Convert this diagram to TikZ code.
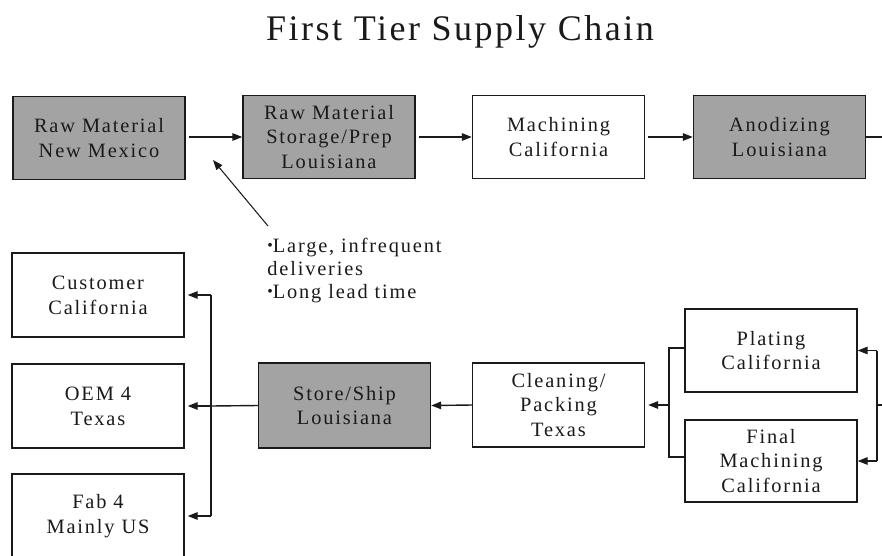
\documentclass[tikz,border=0pt]{standalone}
\usepackage{fontspec}
\setmainfont{Liberation Serif}[LetterSpace=9]
\usepackage{tikz}
\usetikzlibrary{arrows.meta,positioning,calc}
\definecolor{Ink}{HTML}{1A1A1A}
\definecolor{Shade}{HTML}{A3A3A3}
\newcommand\dotmark{{\fontsize{9}{9}\selectfont\raisebox{0.3ex}{\textbullet}}}
\tikzset{
  stage/.style={draw=Ink,thick,minimum width=172*0.02cm,minimum height=83*0.02cm,align=center,fill=white,text=Ink,font=\fontsize{11.6}{14.2}\selectfont,inner sep=2pt},
  stagegrey/.style={stage,fill=Shade},
  arrow/.style={-{Triangle[length=2mm,width=1.5mm]},thick,draw=Ink},
  link/.style={thick,draw=Ink}
}
\begin{document}
\begin{tikzpicture}[x=0.02cm,y=-0.02cm]
  \useasboundingbox (0,0) rectangle (882,555);
  \node[anchor=base,font=\fontsize{20.5}{22}\selectfont\addfontfeature{LetterSpace=7},text=Ink] (title) at (460,40) {First Tier Supply Chain};

  % top row
  \node[stagegrey] (rawNM) at (99,138) {Raw Material\\New Mexico};
  \node[stagegrey] (rawLA) at (329,137) {Raw Material\\Storage/Prep\\Louisiana};
  \node[stage] (mach) at (558.5,137) {Machining\\California};
  \node[stagegrey] (anod) at (779.5,137) {Anodizing\\Louisiana};
  \coordinate (topOut) at (884,137);
  \draw[arrow] (rawNM.east |- rawLA) ++(3,0) -- (rawLA.west);
  \draw[arrow] (rawLA.east) ++(3,0) -- (mach.west);
  \draw[arrow] (mach.east) ++(3,0) -- (anod.west);
  \draw[link] (anod.east) -- (topOut);

  % note on deliveries
  \node[anchor=north west,align=left,inner sep=0pt,text=Ink,font=\fontsize{11.6}{13}\selectfont] (note) at (267,238) {\dotmark Large, infrequent\\deliveries\\\dotmark Long lead time};
  \coordinate (noteTail) at (268,226);
  \coordinate (noteTip) at (213,160);
  \draw[arrow,semithick] (noteTail) -- (noteTip);

  % bottom row
  \node[stage,minimum height=84*0.02cm] (cust) at (98,295) {Customer\\California};
  \node[stage,minimum height=84*0.02cm] (oem) at (98,406) {OEM 4\\Texas};
  \node[stage,minimum height=84*0.02cm] (fab) at (98,516) {Fab 4\\Mainly US};
  \node[stagegrey,minimum height=85*0.02cm] (store) at (344.5,405.5) {Store/Ship\\Louisiana};
  \node[stage,minimum height=84*0.02cm] (clean) at (558.5,405) {Cleaning/\\Packing\\Texas};
  \node[stage,minimum height=83*0.02cm] (plat) at (771,350.5) {Plating\\California};
  \node[stage,minimum height=82*0.02cm] (fin) at (771,461) {Final\\Machining\\California};

  % feeds into plating and final machining
  \coordinate (botIn) at (884,405);
  \coordinate (brR) at (877,405);
  \draw[link] (botIn) -- (brR);
  \draw[link] (brR |- plat) -- (brR |- fin);
  \draw[arrow] (brR |- plat) -- (plat.east);
  \draw[arrow] (brR |- fin) -- (fin.east);

  % plating / final machining to cleaning
  \coordinate (brM) at (669,405);
  \draw[link] ([yshift=0.05cm]plat.west) -| ([yshift=0.08cm]brM |- fin.west) -- ([yshift=0.08cm]fin.west);
  \draw[arrow] (brM) -- ([xshift=0.06cm]clean.east);
  \draw[arrow] (clean.west) -- (store.east);

  % shipping out to customers
  \coordinate (brL) at (211,406);
  \draw[link] (store.west) -- (brL);
  \draw[link] (brL |- cust) -- (brL |- fab);
  \draw[arrow] (brL |- cust) -- ([xshift=0.06cm]cust.east);
  \draw[arrow] (brL) -- ([xshift=0.06cm]oem.east);
  \draw[arrow] (brL |- fab) -- ([xshift=0.06cm]fab.east);
\end{tikzpicture}
\end{document}
